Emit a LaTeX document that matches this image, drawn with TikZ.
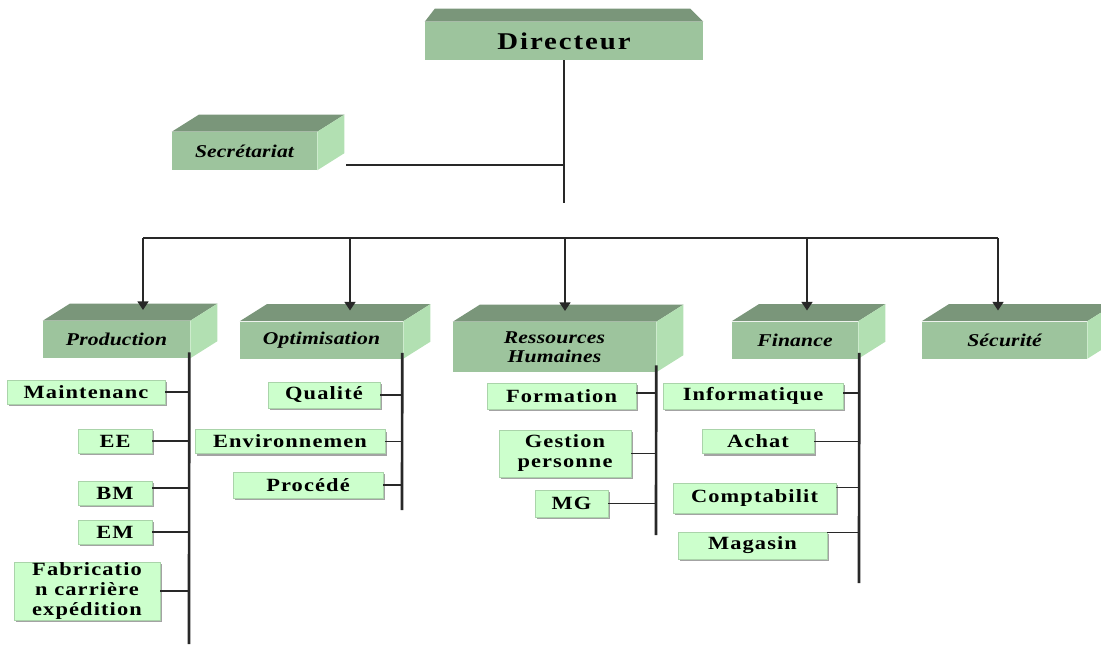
\documentclass[tikz,border=0pt]{standalone}
\usepackage{fontspec}
\setmainfont{Liberation Serif}
\newfontfamily\dirfont[FakeStretch=1.2, LetterSpace=8]{Liberation Serif}
\newfontfamily\deptfont[FakeStretch=1.2, LetterSpace=1]{Liberation Serif}
\newfontfamily\subfont[FakeStretch=1.2, LetterSpace=6]{Liberation Serif}
\usepackage{xcolor}
\usepackage{tikz}
\usetikzlibrary{arrows.meta,calc,shadows}
\definecolor{deptfront}{RGB}{157,196,157}
\definecolor{depttop}{RGB}{122,150,122}
\definecolor{deptside}{RGB}{178,224,178}
\definecolor{subfill}{RGB}{204,255,204}
\definecolor{subedge}{RGB}{170,212,170}
\definecolor{linec}{RGB}{40,40,40}
\newlength\pxu
\setlength\pxu{0.75pt}

\begin{document}
\begin{tikzpicture}[
  x=0.75pt, y=-0.75pt,
  dept/.style={fill=deptfront, inner sep=0pt, align=center, minimum height=37\pxu,
               font=\deptfont\bfseries\itshape\fontsize{13.5}{14.5}\selectfont},
  sub/.style={fill=subfill, draw=subedge, line width=0.5pt, inner sep=0pt, align=center,
              minimum height=24\pxu, font=\subfont\bfseries\fontsize{14}{15}\selectfont,
              drop shadow={shadow xshift=1.6pt, shadow yshift=-1.6pt, fill=black!45, opacity=0.8}},
  mline/.style={line width=1.6pt, draw=linec},
  vline/.style={line width=2pt, draw=linec},
  hline/.style={line width=0.8pt, draw=linec},
  ar/.style={mline, -{Triangle[length=6.5pt, width=8pt]}, shorten >=8pt}
]
\useasboundingbox (0,0) rectangle (1101,644);

\node[fill=deptfront, inner sep=0pt, minimum width=278\pxu, minimum height=38\pxu,
      font=\dirfont\bfseries\fontsize{18}{20}\selectfont] (dir) at (564,41) {Directeur};
\fill[depttop] (dir.north west) -- ++(10,-13) -- ($(dir.north east)+(-13,-13)$)
  -- (dir.north east) -- cycle;

\node[dept, minimum width=145\pxu, minimum height=38\pxu] (secr) at (244.5,151) {Secrétariat};
\node[dept, minimum width=147\pxu] (prod) at (116.5,339.5) {Production};
\node[dept, minimum width=163\pxu] (opti) at (321.5,340) {Optimisation};
\node[dept, minimum width=203\pxu, minimum height=50\pxu] (rh) at (554.5,347) {Ressources\\Humaines};
\node[dept, minimum width=126\pxu] (fin) at (795,340) {Finance};
\node[dept, minimum width=165\pxu] (secu) at (1004.5,340) {Sécurité};

\foreach \b in {secr,prod,opti,rh,fin,secu} {
  \fill[depttop] (\b.north west) -- ++(27,-17) -- ($(\b.north east)+(27,-17)$)
    -- (\b.north east) -- cycle;
  \fill[deptside] (\b.north east) -- ++(27,-17) -- ($(\b.south east)+(27,-17)$)
    -- (\b.south east) -- cycle;
}

\coordinate (dirend) at (564,203);
\coordinate (b1) at (143,238);
\coordinate (b2) at (350,238);
\coordinate (b3) at (565,238);
\coordinate (b4) at (807,238);
\coordinate (b5) at (998,238);

\draw[mline] (dir.south) -- (dirend);
\draw[mline] ($(secr.south east)+(29,-5)$) -- ($(secr.south east -| dirend)+(0,-5)$);
\draw[mline] (b1) -- (b5);
\draw[ar] (b1) -- (b1 |- prod.north);
\draw[ar] (b2) -- (b2 |- opti.north);
\draw[ar] (b3) -- (b3 |- rh.north);
\draw[ar] (b4) -- (b4 |- fin.north);
\draw[ar] (b5) -- (b5 |- secu.north);

\node[sub, minimum width=158\pxu] (mnt) at (86,392) {Maintenanc};
\node[sub, minimum width=74\pxu] (ee) at (115,441) {EE};
\node[sub, minimum width=74\pxu] (bm) at (115,493) {BM};
\node[sub, minimum width=74\pxu] (em) at (115,532) {EM};
\node[sub, minimum width=146\pxu, minimum height=58\pxu] (fab) at (87,591)
  {Fabricatio\\n carrière\\expédition};

\node[sub, minimum width=112\pxu, minimum height=26\pxu] (qual) at (324,395) {Qualité};
\node[sub, minimum width=190\pxu] (env) at (290,441.5) {Environnemen};
\node[sub, minimum width=150\pxu, minimum height=26\pxu] (proc) at (308,485) {Procédé};

\node[sub, minimum width=149\pxu, minimum height=26\pxu] (form) at (561.5,396) {Formation};
\node[sub, minimum width=132\pxu, minimum height=47\pxu] (gest) at (565,453.5) {Gestion\\personne};
\node[sub, minimum width=73\pxu, minimum height=27\pxu] (mg) at (571.5,503.5) {MG};

\node[sub, minimum width=180\pxu, minimum height=26\pxu] (info) at (753,396) {Informatique};
\node[sub, minimum width=112\pxu] (achat) at (758,441.5) {Achat};
\node[sub, minimum width=163\pxu, minimum height=30\pxu] (compta) at (754.5,498) {Comptabilit};
\node[sub, minimum width=149\pxu, minimum height=27\pxu] (mag) at (752.5,545.5) {Magasin};

\coordinate (prodend) at (189,644);
\coordinate (optiend) at (402,510);
\coordinate (rhend) at (656,535);
\coordinate (finend) at (859,583);

\draw[vline] ($(prod.south east)+(-1,-6)$) -- (prodend);
\draw[vline] ($(opti.south east)+(-1,-6)$) -- (optiend);
\draw[vline] ($(rh.south east)+(0,-7)$) -- (rhend);
\draw[vline] ($(fin.south east)+(1,-6)$) -- (finend);

\draw[hline] (mnt.east) -- (mnt.east -| prodend);
\draw[hline] (ee.east) -- (ee.east -| prodend);
\draw[hline] ($(bm.east)+(0,-5)$) -- ($(bm.east -| prodend)+(0,-5)$);
\draw[hline] (em.east) -- (em.east -| prodend);
\draw[hline] (fab.east) -- (fab.east -| prodend);

\draw[hline] (qual.east) -- (qual.east -| optiend);
\draw[hline] (env.east) -- (env.east -| optiend);
\draw[hline] (proc.east) -- (proc.east -| optiend);

\draw[hline] ($(form.east)+(0,-3)$) -- ($(form.east -| rhend)+(0,-3)$);
\draw[hline] (gest.east) -- (gest.east -| rhend);
\draw[hline] (mg.east) -- (mg.east -| rhend);

\draw[hline] ($(info.east)+(0,-3)$) -- ($(info.east -| finend)+(0,-3)$);
\draw[hline] (achat.east) -- (achat.east -| finend);
\draw[hline] ($(compta.north east)+(0,5)$) -- ($(compta.north east -| finend)+(0,5)$);
\draw[hline] ($(mag.north east)+(0,1)$) -- ($(mag.north east -| finend)+(0,1)$);
\end{tikzpicture}
\end{document}
